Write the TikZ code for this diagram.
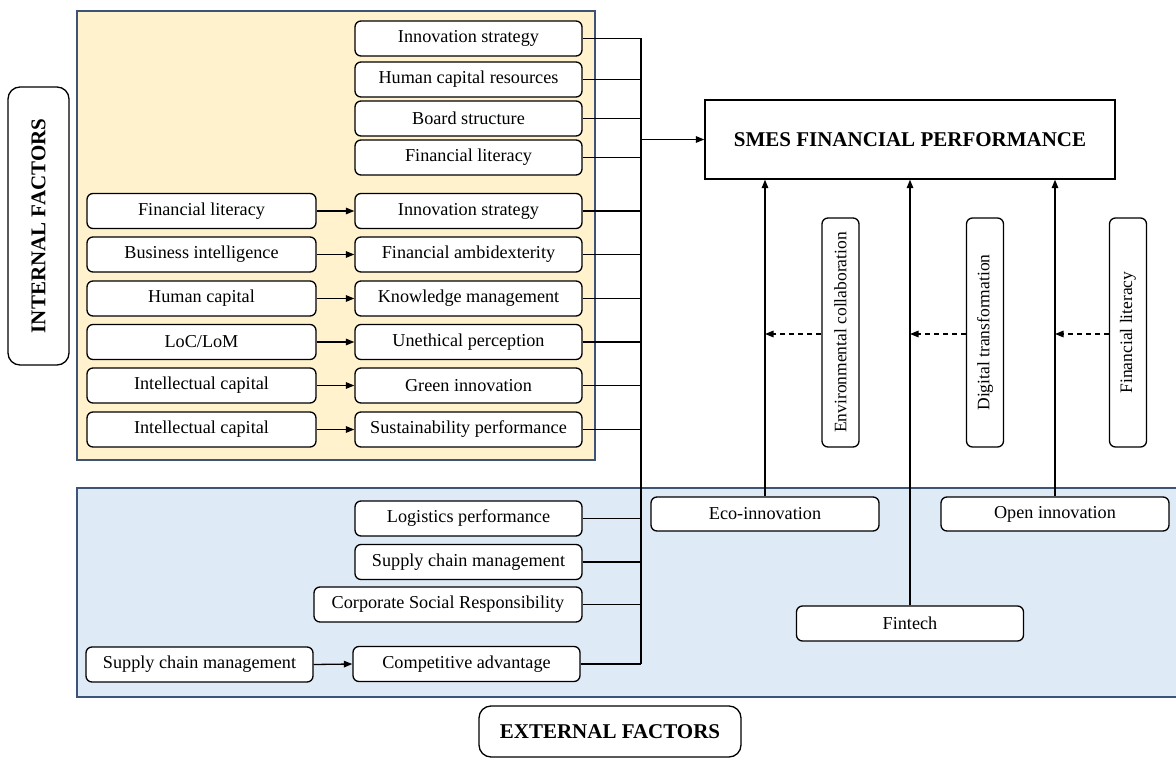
\documentclass[tikz,border=0pt]{standalone}
\usepackage{fontspec}
\setmainfont{Liberation Serif}
\usetikzlibrary{arrows.meta}
\definecolor{yelbg}{HTML}{FFF2CC}
\definecolor{blubg}{HTML}{DEEAF6}
\definecolor{frame}{HTML}{3B5477}
\begin{document}
\begin{tikzpicture}[x=1pt,y=-1pt,
  fbox/.style={draw=black,line width=1.3pt,rounded corners=6pt,fill=white,inner sep=0pt,
    minimum height=35pt,font=\fontsize{18.2}{21}\selectfont,align=center},
  vbox/.style={fbox,rotate=90,minimum height=37pt,minimum width=229pt,font=\fontsize{17.5}{20}\selectfont},
  bigbox/.style={draw=black,line width=1.3pt,rounded corners=12pt,fill=white,inner sep=0pt,
    font=\fontsize{21}{24}\selectfont\bfseries},
  conn/.style={line width=1.3pt},
  arr/.style={line width=1.3pt,-{Triangle[length=8.5pt,width=6.5pt]}},
  darr/.style={line width=1.3pt,dash pattern=on 5pt off 4pt,-{Triangle[length=8.5pt,width=6.5pt]}}
]
\useasboundingbox (0,0) rectangle (1176,762);
% backgrounds
\fill[yelbg] (77,11) rectangle (595,460);
\draw[frame,line width=1.2pt] (77,11) rectangle (595,460);
\fill[blubg] (77,488) rectangle (1176,697);
\draw[frame,line width=1.2pt] (1177,488) -- (77,488) -- (77,697) -- (1177,697);

% internal top column
\node[fbox,minimum width=227pt] (a1) at (468.5,38.5) {Innovation strategy};
\node[fbox,minimum width=227pt] (a2) at (468.5,79.5) {Human capital resources};
\node[fbox,minimum width=227pt] (a3) at (468.5,118.5) {Board structure};
\node[fbox,minimum width=227pt] (a4) at (468.5,157.5) {Financial literacy};

% internal pairs
\node[fbox,minimum width=229pt] (l1) at (201.5,211) {Financial literacy};
\node[fbox,minimum width=227pt] (r1) at (468.5,211) {Innovation strategy};
\node[fbox,minimum width=229pt] (l2) at (201.5,254.5) {Business intelligence};
\node[fbox,minimum width=227pt] (r2) at (468.5,254.5) {Financial ambidexterity};
\node[fbox,minimum width=229pt] (l3) at (201.5,298.5) {Human capital};
\node[fbox,minimum width=227pt] (r3) at (468.5,298.5) {Knowledge management};
\node[fbox,minimum width=229pt] (l4) at (201.5,342) {LoC/LoM};
\node[fbox,minimum width=227pt] (r4) at (468.5,342) {Unethical perception};
\node[fbox,minimum width=229pt] (l5) at (201.5,385.5) {Intellectual capital};
\node[fbox,minimum width=227pt] (r5) at (468.5,385.5) {Green innovation};
\node[fbox,minimum width=229pt] (l6) at (201.5,429.5) {Intellectual capital};
\node[fbox,minimum width=227pt] (r6) at (468.5,429.5) {Sustainability performance};

% external
\node[fbox,minimum width=227pt] (e1) at (468.5,518.5) {Logistics performance};
\node[fbox,minimum width=227pt] (e2) at (468.5,562) {Supply chain management};
\node[fbox,minimum width=268pt] (e3) at (448,604.5) {Corporate Social Responsibility};
\node[fbox,minimum width=227pt] (el) at (199.5,664.5) {Supply chain management};
\node[fbox,minimum width=227pt] (e4) at (466.5,664) {Competitive advantage};

% right side
\node[draw=black,line width=1.3pt,fill=white,minimum width=410pt,minimum height=79pt,inner sep=0pt,
  font=\fontsize{21}{24}\selectfont\bfseries] (smes) at (910,139.5) {SMES FINANCIAL PERFORMANCE};
\node[fbox,minimum width=228pt,minimum height=34pt] (eco) at (765,514) {Eco-innovation};
\node[fbox,minimum width=228pt,minimum height=34pt] (open) at (1055,514) {Open innovation};
\node[fbox,minimum width=227pt] (fin) at (910,623.5) {Fintech};
\node[vbox] (env) at (840.5,332.5) {Environmental collaboration};
\node[vbox] (dig) at (985,332.5) {Digital transformation};
\node[vbox] (fl3) at (1128,332.5) {Financial literacy};

% factor labels
\node[bigbox,rotate=90,minimum width=278pt,minimum height=61pt] (intf) at (38.5,226) {INTERNAL FACTORS};
\node[bigbox,minimum width=262pt,minimum height=51pt] (extf) at (610,731.5) {EXTERNAL FACTORS};

% arrows within pairs
\foreach \i in {1,...,6} {\draw[arr] (l\i.east) -- (r\i.west);}
\draw[arr] (el.east) -- (e4.west);

% bus
\coordinate (bus) at (641,0);
\foreach \n in {a1,a2,a3,a4,r1,r2,r3,r4,r5,r6,e1,e2,e3,e4} {\draw[conn] (\n.east) -- (\n.east -| bus);}
\draw[conn] (bus |- a1.east) -- (bus |- e4.east);
\draw[arr] (bus |- smes.west) -- (smes.west);

% vertical arrows to SMES
\draw[arr] (eco.north) -- (eco.north |- smes.south);
\draw[arr] (fin.north) -- (fin.north |- smes.south);
\draw[arr] (open.north) -- (open.north |- smes.south);

% moderator dashed arrows
\draw[darr] ([yshift=-1.5pt]env.north) -- ([yshift=-1.5pt]env.north -| eco.north);
\draw[darr] ([yshift=-1.5pt]dig.north) -- ([yshift=-1.5pt]dig.north -| fin.north);
\draw[darr] ([yshift=-1.5pt]fl3.north) -- ([yshift=-1.5pt]fl3.north -| open.north);
\end{tikzpicture}
\end{document}
